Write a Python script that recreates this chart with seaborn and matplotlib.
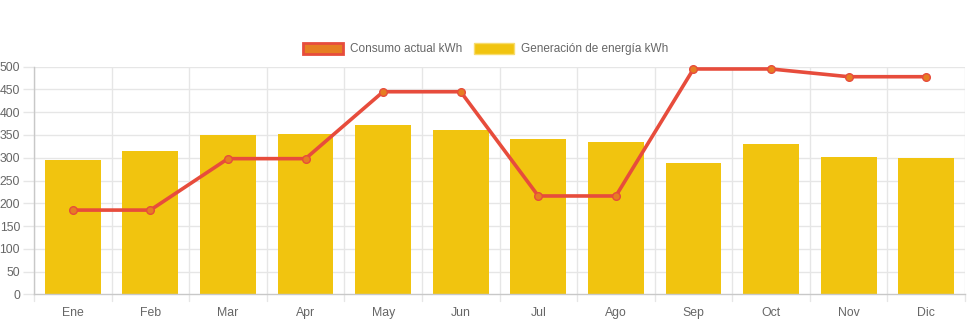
import numpy as np
import pandas as pd
import matplotlib
matplotlib.use("Agg")
import matplotlib.pyplot as plt
from matplotlib.patches import Patch
import seaborn as sns

months = ["Ene", "Feb", "Mar", "Apr", "May", "Jun", "Jul", "Ago", "Sep", "Oct", "Nov", "Dic"]
generacion = [296, 315, 351, 352, 373, 361, 341, 334, 288, 331, 301, 299]
consumo = [185, 185, 298, 298, 445, 445, 216, 216, 495, 495, 478, 478]
y_ticks = [0, 50, 100, 150, 200, 250, 300, 350, 400, 450, 500]

df = pd.DataFrame({"mes": months, "generacion": generacion, "consumo": consumo})

sns.set_theme(style="white")
plt.rcParams["font.family"] = ["Liberation Sans", "DejaVu Sans"]

W, H = 971, 323
fig = plt.figure(figsize=(W / 100, H / 100), dpi=100)
ax = fig.add_axes([34 / W, 1 - 294.3 / H, (965 - 34) / W, (294.3 - 66.7) / H])

yellow = "#f1c40f"
red = "#e74c3c"
orange = "#e67e22"
grid_c = "#e6e6e6"
text_c = "#666666"

sns.barplot(data=df, x="mes", y="generacion", color=yellow, saturation=1,
            width=0.72, ax=ax, zorder=2, linewidth=0)
sns.pointplot(data=df, x="mes", y="consumo", color=red, markers="o",
              linestyles="-", ax=ax, linewidth=2.6, markersize=5.5,
              markerfacecolor=orange, markeredgecolor=red, markeredgewidth=1.0,
              zorder=4)
for ln in ax.lines:
    ln.set_clip_on(False)

ax.set_xlim(-0.5, len(months) - 0.5)
ax.set_ylim(0, 500)
ax.set_yticks(y_ticks)
ax.set_yticklabels([str(v) for v in y_ticks])
ax.set_xlabel("")
ax.set_ylabel("")

# Horizontal gridlines
for v in y_ticks[1:]:
    ax.axhline(v, color=grid_c, lw=1, zorder=0)
# Vertical gridlines at category boundaries
for b in np.arange(-0.5, len(months), 1.0):
    ax.axvline(b, color=grid_c, lw=1, zorder=0)
    ax.plot([b, b], [0, -14], color=grid_c, lw=1, clip_on=False, zorder=0)

for s in ["top", "right"]:
    ax.spines[s].set_visible(False)
ax.spines["left"].set_color("#c8c8c8")
ax.spines["bottom"].set_color("#c8c8c8")
ax.spines["left"].set_linewidth(1)
ax.spines["bottom"].set_linewidth(1)

ax.tick_params(axis="x", length=0, pad=9, labelsize=8.8, labelcolor=text_c)
ax.tick_params(axis="y", length=8, width=1, color=grid_c, pad=2,
               labelsize=8.8, labelcolor=text_c, left=True)

handles = [
    Patch(facecolor=orange, edgecolor=red, linewidth=2, label="Consumo actual kWh"),
    Patch(facecolor=yellow, edgecolor="#f7dc6f", linewidth=1, label="Generación de energía kWh"),
]
leg = fig.legend(handles=handles, loc="center", bbox_to_anchor=(0.5, 1 - 49 / H),
                 ncol=2, frameon=False, fontsize=8.5, handlelength=3.4,
                 handleheight=1.05, handletextpad=0.6, columnspacing=1.0)
for t in leg.get_texts():
    t.set_color(text_c)

fig.savefig("out.png", dpi=100)
